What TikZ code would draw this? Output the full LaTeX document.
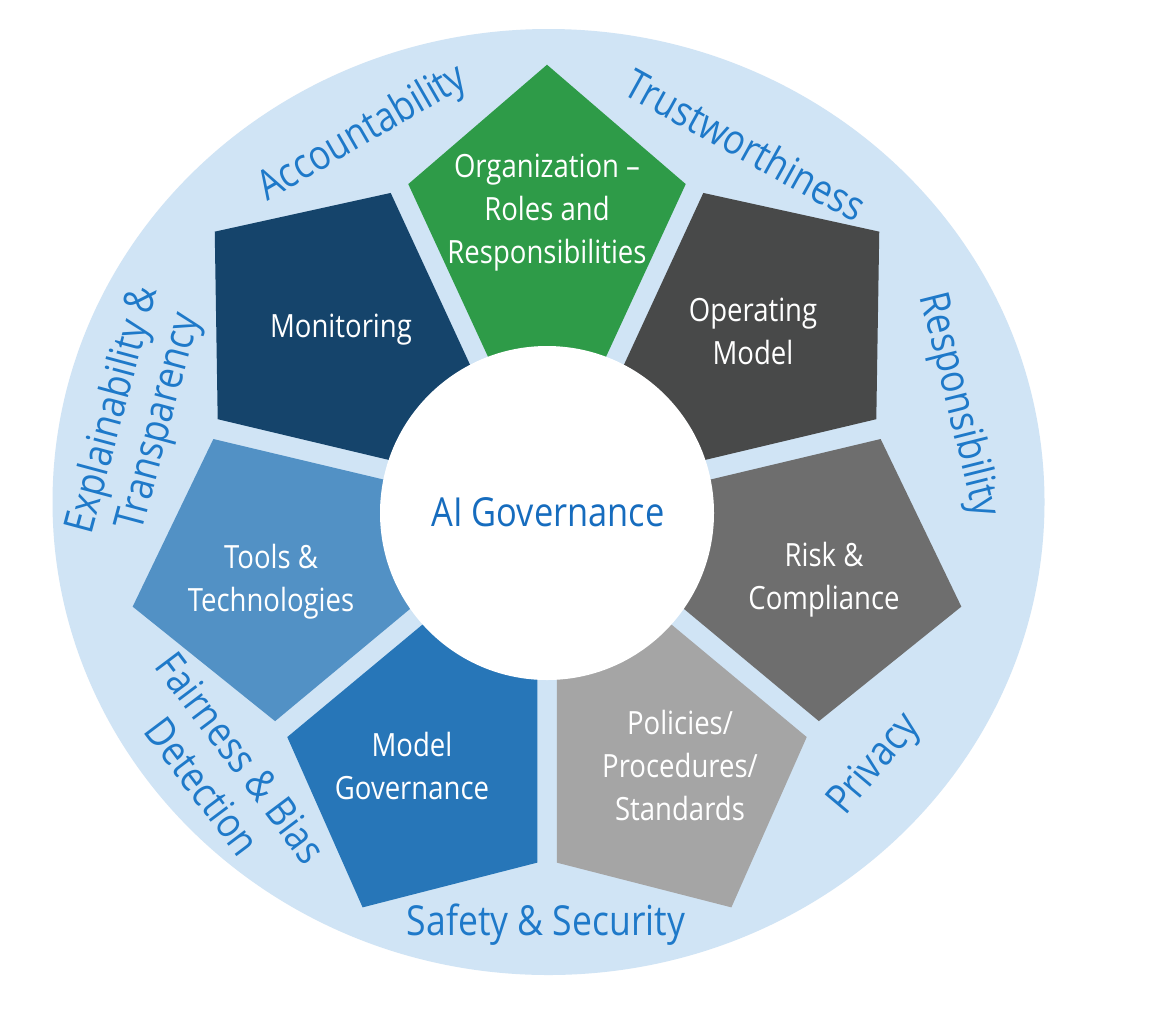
\documentclass[tikz,border=0pt]{standalone}
\usepackage{fontspec}
\setmainfont{Open Sans}[FakeStretch=0.86]
\definecolor{ringblue}{RGB}{208,228,245}
\definecolor{cgreen}{RGB}{46,155,72}
\definecolor{cop}{RGB}{72,73,73}
\definecolor{crisk}{RGB}{110,110,110}
\definecolor{cpol}{RGB}{165,165,165}
\definecolor{cmod}{RGB}{39,118,184}
\definecolor{ctools}{RGB}{82,145,197}
\definecolor{cmon}{RGB}{21,68,107}
\definecolor{outblue}{RGB}{30,121,201}
\definecolor{aiblue}{RGB}{22,108,190}
\begin{document}
\begin{tikzpicture}[x=0.75pt,y=-0.75pt,
  ptext/.style={text=white, align=center, font=\fontsize{24}{32.25}\selectfont},
  otext/.style={text=outblue, align=center, font=\fontsize{31}{36}\selectfont},
  aitext/.style={text=aiblue, font=\fontsize{30}{36}\selectfont}]
\useasboundingbox (0,0) rectangle (1152,1008);
\fill[white] (0,0) rectangle (1152,1008);
% outer ring
\fill[ringblue] (548.5,502) ellipse [x radius=496, y radius=473];
% seven pentagons
\begin{scope}[shift={(547,508)}, yscale=-1.043]
  \foreach \a/\c in {90/cgreen, 38.571/cop, -12.857/crisk, -64.286/cpol,
                     -115.714/cmod, -167.143/ctools, 141.429/cmon}{
    \fill[\c] (\a+24.071:340.14) -- (\a:425) -- (\a-24.071:340.14) -- (\a:22.47) -- cycle;
  }
\end{scope}
% centre
\fill[white] (547,513) circle [radius=167];
\node[aitext] (ai) at (548,512) {AI Governance};
% pentagon labels
\node[ptext] (org) at (547,213) {Organization –\\Roles and\\Responsibilities};
\node[ptext] (opm) at (753,331) {Operating\\Model};
\node[ptext] (risk) at (824,580) {Risk \&\\Compliance};
\node[ptext] (pol) at (680,765) {Policies/\\Procedures/\\Standards};
\node[ptext] (modg) at (412,766) {Model\\Governance};
\node[ptext] (tools) at (271,582) {Tools \&\\Technologies};
\node[ptext] (mon) at (341,330) {Monitoring};
% ring labels
\node[otext, rotate=30] (acc) at (363,134) {Accountability};
\node[otext, rotate=-29] (trust) at (746,145) {Trustworthiness};
\node[otext, rotate=-76] (resp) at (958,405) {Responsibility};
\node[otext, rotate=50] (priv) at (875,765) {Privacy};
\node[otext] (safe) at (546,925) {Safety \& Security};
\node[otext, rotate=-53] (fair) at (222,772) {Fairness \& Bias\\Detection};
\node[otext, rotate=75] (expl) at (137,416) {Explainability \&\\Transparency};
\end{tikzpicture}
\end{document}
